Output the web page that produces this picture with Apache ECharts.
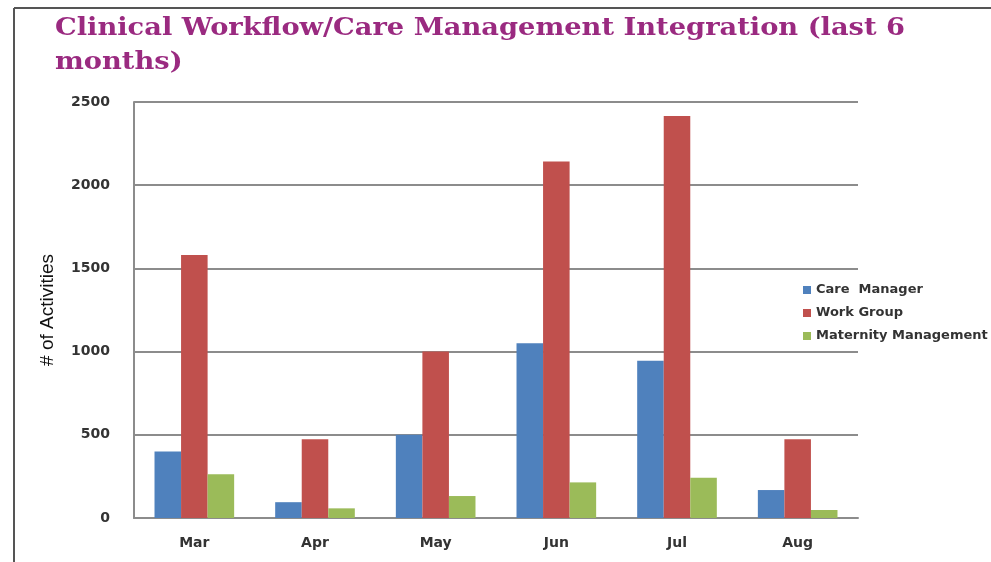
<!DOCTYPE html>
<html>
<head>
<meta charset="utf-8">
<script src="https://cdn.jsdelivr.net/npm/echarts@6/dist/echarts.min.js"></script>
<style>html,body{margin:0;padding:0;background:#fff;}#c{width:991px;height:562px;}</style>
</head>
<body>
<div id="c"></div>
<script>
const categories = ['Mar', 'Apr', 'May', 'Jun', 'Jul', 'Aug'];
const careManager = [400, 95, 500, 1050, 945, 168];
const workGroup = [1580, 473, 1000, 2143, 2416, 473];
const maternity = [263, 58, 132, 214, 242, 48];
const seriesNames = ['Care  Manager', 'Work Group', 'Maternity Management'];
const yTicks = [0, 500, 1000, 1500, 2000, 2500];
const titleLines = ['Clinical Workflow/Care Management Integration (last 6', 'months)'];

const titleFont = 'bold 24px "DejaVu Serif"';
const ctx = document.createElement('canvas').getContext('2d');
ctx.font = titleFont;
const titleScale = 850 / ctx.measureText(titleLines[0]).width;

const chart = echarts.init(document.getElementById('c'), null, {renderer: 'canvas'});
chart.setOption({
  backgroundColor: '#fff',
  animation: false,
  legend: {
    orient: 'vertical', left: 798, top: 278,
    itemWidth: 8, itemHeight: 8, itemGap: 9,
    icon: 'rect',
    textStyle: {fontFamily: 'DejaVu Sans', fontSize: 13, fontWeight: 'bold', color: '#333', lineHeight: 14},
    data: seriesNames
  },
  grid: {left: 134, top: 102, width: 724, height: 416, containLabel: false},
  xAxis: {
    type: 'category', data: categories,
    axisLine: {lineStyle: {color: '#8c8c8c', width: 2}},
    axisTick: {show: false},
    axisLabel: {fontFamily: 'DejaVu Sans', fontSize: 14, fontWeight: 'bold', color: '#333', margin: 18}
  },
  yAxis: {
    type: 'value', min: 0, max: 2500, interval: 500,
    name: '# of Activities', nameLocation: 'middle', nameGap: 77,
    nameTextStyle: {fontFamily: 'Liberation Sans', fontSize: 19, color: '#111'},
    axisLine: {show: true, lineStyle: {color: '#8c8c8c', width: 2}},
    axisTick: {show: false},
    splitLine: {lineStyle: {color: '#8c8c8c', width: 2}},
    axisLabel: {fontFamily: 'DejaVu Sans', fontSize: 14, fontWeight: 'bold', color: '#333', margin: 24,
      formatter: v => yTicks.includes(v) ? String(v) : ''}
  },
  graphic: [
    {type: 'line', shape: {x1: 14, y1: 8, x2: 991, y2: 8}, style: {stroke: '#555', lineWidth: 2}},
    {type: 'line', shape: {x1: 14, y1: 8, x2: 14, y2: 562}, style: {stroke: '#555', lineWidth: 2}},
    {type: 'text', x: 55, y: 17, scaleX: titleScale,
      style: {text: titleLines[0], font: titleFont, fill: '#9a2a80'}},
    {type: 'text', x: 55, y: 51, scaleX: titleScale,
      style: {text: titleLines[1], font: titleFont, fill: '#9a2a80'}}
  ],
  series: [
    {name: seriesNames[0], type: 'bar', data: careManager, itemStyle: {color: '#4f81bd'}, barGap: '0%', barCategoryGap: '34%'},
    {name: seriesNames[1], type: 'bar', data: workGroup, itemStyle: {color: '#c0504d'}, barGap: '0%', barCategoryGap: '34%'},
    {name: seriesNames[2], type: 'bar', data: maternity, itemStyle: {color: '#9bbb59'}, barGap: '0%', barCategoryGap: '34%'}
  ]
});
</script>
</body>
</html>
